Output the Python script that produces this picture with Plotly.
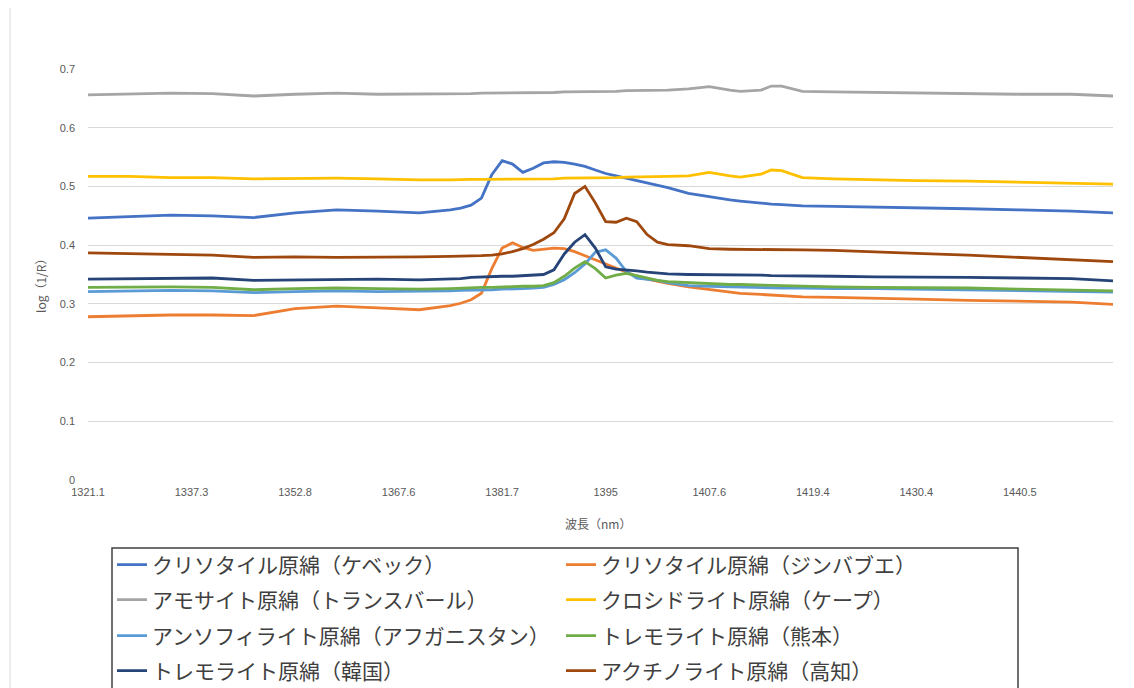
import plotly.graph_objects as go

# ---- data -------------------------------------------------------------
wavelength_labels = ["1321.1", "1337.3", "1352.8", "1367.6", "1381.7",
                     "1395", "1407.6", "1419.4", "1430.4", "1440.5"]
label_index = [0, 10, 20, 30, 40, 50, 60, 70, 80, 90]

sample_idx = [0, 4, 8, 12, 16, 20, 24, 28, 32, 35, 36, 37, 38, 39, 40, 41, 42, 43,
              44, 45, 46, 47, 48, 49, 50, 51, 52, 53, 54, 55, 56, 58, 60, 62, 63,
              65, 66, 67, 69, 72, 76, 80, 85, 90, 95, 99]

chrysotile_quebec = [0.446, 0.448, 0.451, 0.450, 0.447, 0.455, 0.460, 0.458, 0.455, 0.460,
                     0.463, 0.468, 0.480, 0.520, 0.544, 0.538, 0.524, 0.531, 0.540, 0.542,
                     0.541, 0.538, 0.534, 0.528, 0.522, 0.518, 0.514, 0.509, 0.505, 0.502,
                     0.498, 0.488, 0.482, 0.477, 0.475, 0.471, 0.470, 0.469, 0.467, 0.466,
                     0.465, 0.464, 0.462, 0.460, 0.458, 0.455]
chrysotile_zimbabwe = [0.278, 0.280, 0.281, 0.281, 0.280, 0.292, 0.296, 0.293, 0.290, 0.297,
                       0.301, 0.307, 0.318, 0.360, 0.395, 0.404, 0.396, 0.391, 0.393, 0.395,
                       0.394, 0.389, 0.382, 0.375, 0.367, 0.361, 0.353, 0.347, 0.342, 0.338,
                       0.335, 0.329, 0.325, 0.320, 0.318, 0.316, 0.315, 0.314, 0.312, 0.311,
                       0.309, 0.308, 0.306, 0.304, 0.303, 0.299]
amosite_transvaal = [0.656, 0.658, 0.659, 0.658, 0.654, 0.657, 0.659, 0.657, 0.657, 0.658,
                     0.658, 0.658, 0.659, 0.659, 0.659, 0.659, 0.660, 0.660, 0.660, 0.660,
                     0.661, 0.661, 0.661, 0.662, 0.662, 0.662, 0.663, 0.663, 0.664, 0.664,
                     0.664, 0.666, 0.670, 0.664, 0.662, 0.664, 0.671, 0.671, 0.662, 0.661,
                     0.660, 0.660, 0.659, 0.657, 0.657, 0.654]
crocidolite_cape = [0.517, 0.517, 0.515, 0.515, 0.513, 0.514, 0.514, 0.513, 0.511, 0.511,
                    0.512, 0.512, 0.512, 0.512, 0.512, 0.513, 0.513, 0.513, 0.513, 0.513,
                    0.514, 0.514, 0.514, 0.515, 0.515, 0.515, 0.516, 0.516, 0.517, 0.517,
                    0.517, 0.518, 0.524, 0.518, 0.516, 0.521, 0.528, 0.527, 0.515, 0.513,
                    0.511, 0.510, 0.509, 0.507, 0.506, 0.504]
anthophyllite_afghanistan = [0.321, 0.322, 0.323, 0.322, 0.319, 0.321, 0.322, 0.321, 0.321, 0.322,
                             0.323, 0.323, 0.324, 0.324, 0.325, 0.325, 0.326, 0.327, 0.328, 0.333,
                             0.341, 0.353, 0.368, 0.388, 0.392, 0.378, 0.355, 0.344, 0.342, 0.340,
                             0.336, 0.331, 0.330, 0.329, 0.328, 0.328, 0.327, 0.327, 0.327, 0.326,
                             0.326, 0.325, 0.324, 0.322, 0.321, 0.320]
tremolite_kumamoto = [0.328, 0.329, 0.329, 0.328, 0.324, 0.326, 0.327, 0.326, 0.325, 0.326,
                      0.327, 0.327, 0.328, 0.328, 0.329, 0.329, 0.330, 0.330, 0.331, 0.336,
                      0.347, 0.361, 0.372, 0.360, 0.344, 0.349, 0.352, 0.348, 0.344, 0.340,
                      0.338, 0.336, 0.335, 0.333, 0.333, 0.332, 0.331, 0.331, 0.330, 0.329,
                      0.328, 0.328, 0.327, 0.325, 0.324, 0.322]
tremolite_korea = [0.342, 0.343, 0.344, 0.344, 0.340, 0.341, 0.342, 0.342, 0.341, 0.342,
                   0.343, 0.345, 0.346, 0.346, 0.347, 0.347, 0.348, 0.349, 0.350, 0.358,
                   0.385, 0.405, 0.418, 0.395, 0.363, 0.359, 0.358, 0.356, 0.354, 0.352,
                   0.351, 0.350, 0.350, 0.349, 0.349, 0.349, 0.348, 0.348, 0.348, 0.347,
                   0.346, 0.345, 0.345, 0.344, 0.343, 0.339]
actinolite_kochi = [0.387, 0.386, 0.385, 0.383, 0.379, 0.380, 0.379, 0.379, 0.380, 0.381,
                    0.381, 0.382, 0.382, 0.383, 0.385, 0.389, 0.394, 0.401, 0.410, 0.421,
                    0.445, 0.488, 0.500, 0.472, 0.440, 0.439, 0.446, 0.440, 0.418, 0.405,
                    0.401, 0.399, 0.394, 0.393, 0.393, 0.393, 0.392, 0.392, 0.392, 0.391,
                    0.389, 0.386, 0.383, 0.379, 0.376, 0.372]

series_names = ["クリソタイル原綿（ケベック）", "クリソタイル原綿（ジンバブエ）",
                "アモサイト原綿（トランスバール）", "クロシドライト原綿（ケープ）",
                "アンソフィライト原綿（アフガニスタン）", "トレモライト原綿（熊本）",
                "トレモライト原綿（韓国）", "アクチノライト原綿（高知）"]
series_values = [chrysotile_quebec, chrysotile_zimbabwe, amosite_transvaal, crocidolite_cape,
                 anthophyllite_afghanistan, tremolite_kumamoto, tremolite_korea, actinolite_kochi]
series_colors = ["#4472C4", "#ED7D31", "#A5A5A5", "#FFC000",
                 "#5B9BD5", "#70AD47", "#264478", "#9E480E"]
legend_ids = ["legend", "legend", "legend2", "legend2",
              "legend3", "legend3", "legend4", "legend4"]

# ---- geometry (pixels; page body has an 8px margin) ---------------------
OFF = 8
W, H = 1134 - OFF, 688 - OFF
L, R, T, B = 88 - OFF, 21, 69 - OFF, 208
pw, ph = W - L - R, H - T - B


def px_x(x):
    return (x - OFF - L) / pw


def px_y(y):
    return (H - B - (y - OFF)) / ph


fig = go.Figure()
for name, vals, col, lg in zip(series_names, series_values, series_colors, legend_ids):
    fig.add_trace(go.Scatter(x=sample_idx, y=vals, mode="lines", name=name,
                             line=dict(color=col, width=2.8), legend=lg,
                             hoverinfo="skip"))

axis_font = dict(family="Liberation Sans, Arial, sans-serif", size=11, color="#595959")
legend_font = dict(family="Noto Sans CJK JP", size=21, color="#404040")

row_y = [565, 600, 636, 671]
legend_common = dict(orientation="h", entrywidth=404, entrywidthmode="pixels",
                     x=px_x(112), xanchor="left", yanchor="middle",
                     font=legend_font, bgcolor="rgba(0,0,0,0)", borderwidth=0,
                     itemwidth=30, tracegroupgap=0)

fig.update_layout(
    width=W, height=H,
    margin=dict(l=L, r=R, t=T, b=B, autoexpand=False),
    paper_bgcolor="white", plot_bgcolor="white",
    showlegend=True,
    legend=dict(y=px_y(row_y[0]), **legend_common),
    legend2=dict(y=px_y(row_y[1]), **legend_common),
    legend3=dict(y=px_y(row_y[2]), **legend_common),
    legend4=dict(y=px_y(row_y[3]), **legend_common),
    xaxis=dict(range=[0, 99], tickmode="array", tickvals=label_index,
               ticktext=wavelength_labels, showgrid=False, zeroline=False,
               showline=False, ticks="", tickfont=axis_font, ticklabelstandoff=4),
    yaxis=dict(range=[0, 0.7], tickmode="array",
               tickvals=[0, 0.1, 0.2, 0.3, 0.4, 0.5, 0.6, 0.7],
               ticktext=["0", "0.1", "0.2", "0.3", "0.4", "0.5", "0.6", "0.7"],
               showgrid=True, gridcolor="#D9D9D9", gridwidth=1, zeroline=False,
               showline=False, ticks="", tickfont=axis_font, ticklabelstandoff=12),
    annotations=[
        dict(text="log（1/R）", xref="paper", yref="paper", x=px_x(40), y=px_y(283),
             xanchor="center", yanchor="middle", showarrow=False, textangle=-90,
             font=dict(family="Noto Sans CJK JP", size=12, color="#595959")),
        dict(text="波長（nm）", xref="paper", yref="paper", x=px_x(598), y=px_y(523),
             xanchor="center", yanchor="middle", showarrow=False,
             font=dict(family="Noto Sans CJK JP", size=12, color="#595959")),
    ],
    shapes=[
        dict(type="rect", xref="paper", yref="paper", x0=px_x(10), x1=px_x(1145),
             y0=px_y(700), y1=px_y(5), line=dict(color="#D9D9D9", width=1),
             fillcolor="rgba(0,0,0,0)", layer="below"),
        dict(type="rect", xref="paper", yref="paper", x0=px_x(112), x1=px_x(1018),
             y0=px_y(700), y1=px_y(548), line=dict(color="#404040", width=1.5),
             fillcolor="rgba(0,0,0,0)"),
    ],
)

fig.write_html("out.html")
